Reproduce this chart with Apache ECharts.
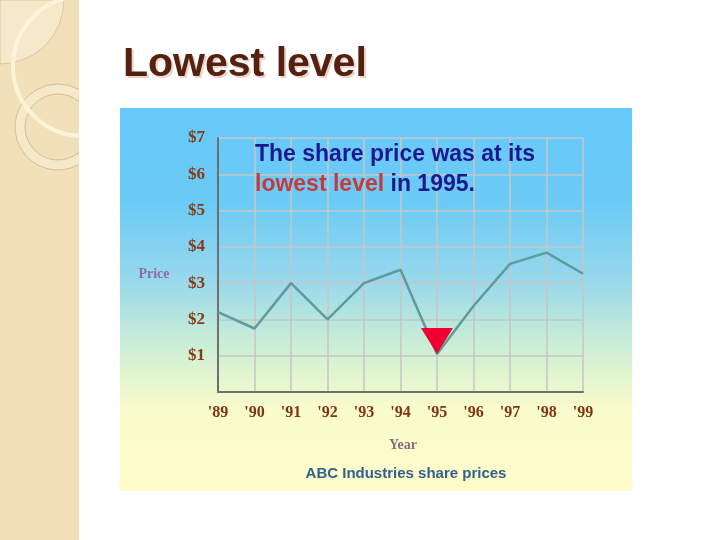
<!DOCTYPE html>
<html><head><meta charset="utf-8">
<script src="https://cdn.jsdelivr.net/npm/echarts@6/dist/echarts.min.js"></script>
<style>html,body{margin:0;padding:0;background:#fff}#c{width:720px;height:540px}</style>
</head><body><div id="c"></div>
<script>
// ---- data ----
const years = ["'89", "'90", "'91", "'92", "'93", "'94", "'95", "'96", "'97", "'98", "'99"];
const prices = [2.2, 1.75, 3.0, 2.0, 3.0, 3.37, 1.05, 2.37, 3.53, 3.84, 3.26];
const yTickLabels = ['', '$1', '$2', '$3', '$4', '$5', '$6', '$7'];
const lowestIndex = 6;
const slideTitle = 'Lowest level';
const noteLine1 = 'The share price was at its';
const noteRed = 'lowest level';
const noteRest = ' in 1995.';
const caption = 'ABC Industries share prices';

const chart = echarts.init(document.getElementById('c'), null, {renderer: 'canvas'});

const ctx = document.createElement('canvas').getContext('2d');
ctx.font = 'bold 23px "Liberation Sans"';
const redW = ctx.measureText(noteRed).width;

const seriesData = prices.map((v, i) => i === lowestIndex ? {
  value: v, symbol: 'triangle', symbolSize: [32, 26], symbolRotate: 180,
  symbolOffset: [0, -13], itemStyle: {color: '#f00032'}
} : v);

const D = Math.PI / 180;
function txt(text, x, y, font, fill, align, z) {
  return {type: 'text', z: z || 20, silent: true,
    style: {text, x, y, font, fill, align: align || 'left', textAlign: align || 'left',
      verticalAlign: 'middle', textVerticalAlign: 'middle'}};
}

const option = {
  animation: false,
  backgroundColor: '#ffffff',
  grid: {left: 218, right: 137, top: 138, bottom: 148, containLabel: false},
  xAxis: {
    type: 'category', data: years, boundaryGap: false,
    axisTick: {show: false},
    axisLine: {show: true, lineStyle: {color: '#6f6f6f', width: 2}},
    splitLine: {show: true, lineStyle: {color: '#c6c6c6', width: 1.5}},
    axisLabel: {color: '#823410', fontFamily: 'Liberation Serif', fontWeight: 'bold', fontSize: 16, margin: 13}
  },
  yAxis: {
    type: 'value', min: 0, max: 7, interval: 1,
    axisTick: {show: false},
    axisLine: {show: true, lineStyle: {color: '#6f6f6f', width: 2}},
    splitLine: {show: true, lineStyle: {color: '#c6c6c6', width: 1.5}},
    axisLabel: {color: '#873a14', fontFamily: 'Liberation Serif', fontWeight: 'bold', fontSize: 17, margin: 13,
      formatter: v => yTickLabels[Math.round(v)] || ''}
  },
  series: [{
    type: 'line', data: seriesData, symbol: 'none', smooth: false,
    lineStyle: {color: '#5f9a9c', width: 2.5}, z: 5
  }],
  graphic: {elements: [
    // left decorative strip
    {type: 'rect', z: -20, silent: true, shape: {x: 0, y: 0, width: 79, height: 540}, style: {fill: '#f2e0ba'}},
    {type: 'sector', z: -19, silent: true, shape: {cx: 0, cy: 0, r: 64, startAngle: 0, endAngle: Math.PI / 2},
      style: {fill: 'rgba(255,250,235,0.35)', stroke: '#dcc79c', lineWidth: 1}},
    {type: 'arc', z: -18, silent: true, shape: {cx: 58, cy: 127, r: 38, startAngle: 56 * D, endAngle: 304 * D, clockwise: true},
      style: {fill: 'none', stroke: 'rgba(255,248,230,0.35)', lineWidth: 10}},
    {type: 'arc', z: -17, silent: true, shape: {cx: 58, cy: 127, r: 43, startAngle: 61 * D, endAngle: 299 * D, clockwise: true},
      style: {fill: 'none', stroke: '#d6bf92', lineWidth: 1}},
    {type: 'arc', z: -17, silent: true, shape: {cx: 58, cy: 127, r: 33, startAngle: 50.5 * D, endAngle: 309.5 * D, clockwise: true},
      style: {fill: 'none', stroke: '#d6bf92', lineWidth: 1}},
    {type: 'arc', z: -16, silent: true, shape: {cx: 83, cy: 66, r: 70, startAngle: 93 * D, endAngle: 267 * D, clockwise: true},
      style: {fill: 'none', stroke: '#fdf4d8', lineWidth: 4}},
    // chart picture background
    {type: 'rect', z: -20, silent: true, shape: {x: 120, y: 108, width: 512, height: 383},
      style: {fill: new echarts.graphic.LinearGradient(0, 0, 0, 1, [
        {offset: 0, color: '#66c9fb'},
        {offset: 0.25, color: '#6ccbf5'},
        {offset: 0.45, color: '#98d8ec'},
        {offset: 0.6, color: '#c6ecd8'},
        {offset: 0.7, color: '#e2f5cf'},
        {offset: 0.78, color: '#f8fbcc'},
        {offset: 1, color: '#fffcc9'}
      ])}},
    // slide title with faint shadow
    txt(slideTitle, 125, 67, 'bold 41px "Liberation Sans"', '#ebd3cb', 'left', 18),
    txt(slideTitle, 123, 65, 'bold 41px "Liberation Sans"', '#55200f', 'left', 19),
    // annotation
    txt(noteLine1, 255, 155, 'bold 23px "Liberation Sans"', '#1c1890'),
    txt(noteRed, 255, 185, 'bold 23px "Liberation Sans"', '#c8393c'),
    txt(noteRest, 255 + redW, 185, 'bold 23px "Liberation Sans"', '#1c1890'),
    // axis names and caption
    txt('Price', 154, 274, 'bold 14px "Liberation Serif"', '#8d6c9e', 'center'),
    txt('Year', 403, 445, 'bold 14px "Liberation Serif"', '#8a6a86', 'center'),
    txt(caption, 406, 474, 'bold 15px "Liberation Sans"', '#30628f', 'center')
  ]}
};
chart.setOption(option);
</script>
</body></html>
